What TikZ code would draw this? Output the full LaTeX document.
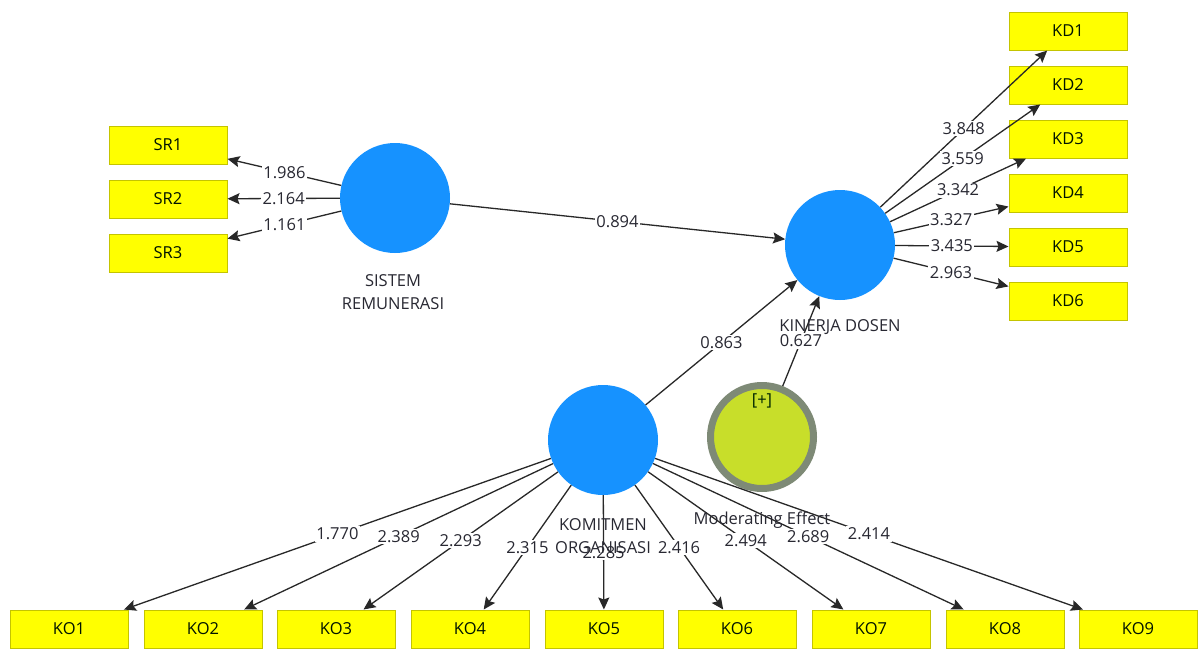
\documentclass[tikz,border=0pt]{standalone}
\usepackage{fontspec}
\setmainfont{Open Sans}
\usetikzlibrary{arrows.meta}
\definecolor{lvblue}{RGB}{22,146,255}
\definecolor{indyellow}{RGB}{255,255,0}
\definecolor{indborder}{RGB}{196,196,0}
\definecolor{modfill}{RGB}{200,222,42}
\definecolor{modring}{RGB}{126,138,118}
\definecolor{linecol}{RGB}{40,40,40}
\definecolor{txtcol}{RGB}{40,40,50}
\tikzset{
  lv/.style={circle, fill=lvblue, minimum size=110pt, inner sep=0pt},
  modlv/.style={circle, fill=modfill, draw=modring, line width=7pt, minimum size=103pt, inner sep=0pt},
  ind/.style={rectangle, fill=indyellow, draw=indborder, line width=1pt, minimum width=118pt, minimum height=38pt, inner sep=0pt, text=black!80!green!40!black, font=\fontsize{16.5}{18}\selectfont},
  arr/.style={draw=linecol, line width=1.3pt, -{Stealth[length=12pt,width=11pt,inset=2pt]}},
  val/.style={fill=white, inner sep=1.5pt, text=txtcol, font=\fontsize{16.5}{18}\selectfont},
  lvlabel/.style={align=center, text=txtcol, font=\fontsize{16.5}{23}\selectfont, inner sep=0pt},
}
\begin{document}
\begin{tikzpicture}[x=1pt,y=-1pt]
\useasboundingbox[fill=white] (0,0) rectangle (1202,648);
% latent variables
\node[lv] (SR) at (395,198) {};
\node[lv] (KD) at (840,245) {};
\node[lv] (KO) at (603,440) {};
\node[modlv] (ME) at (762,437) {};
% indicators
\node[ind] (SR1) at (168,145) {SR1};
\node[ind] (SR2) at (168,199) {SR2};
\node[ind] (SR3) at (168,253) {SR3};
\node[ind] (KD1) at (1068,31) {KD1};
\node[ind] (KD2) at (1068,85) {KD2};
\node[ind] (KD3) at (1068,139) {KD3};
\node[ind] (KD4) at (1068,193) {KD4};
\node[ind] (KD5) at (1068,247) {KD5};
\node[ind] (KD6) at (1068,301) {KD6};
\node[ind] (KO1) at (69,629) {KO1};
\node[ind] (KO2) at (203,629) {KO2};
\node[ind] (KO3) at (336,629) {KO3};
\node[ind] (KO4) at (470,629) {KO4};
\node[ind] (KO5) at (604,629) {KO5};
\node[ind] (KO6) at (737,629) {KO6};
\node[ind] (KO7) at (871,629) {KO7};
\node[ind] (KO8) at (1005,629) {KO8};
\node[ind] (KO9) at (1138,629) {KO9};
% SR outer loadings
\draw[arr] (SR) -- node[val]{1.986} (SR1);
\draw[arr] (SR) -- node[val]{2.164} (SR2);
\draw[arr] (SR) -- node[val]{1.161} (SR3);
% KD outer loadings
\draw[arr] (KD) -- node[val]{3.848} (KD1);
\draw[arr] (KD) -- node[val]{3.559} (KD2);
\draw[arr] (KD) -- node[val]{3.342} (KD3);
\draw[arr] (KD) -- node[val]{3.327} (KD4);
\draw[arr] (KD) -- node[val]{3.435} (KD5);
\draw[arr] (KD) -- node[val]{2.963} (KD6);
% KO outer loadings
\draw[arr] (KO) -- node[val]{1.770} (KO1);
\draw[arr] (KO) -- node[val]{2.389} (KO2);
\draw[arr] (KO) -- node[val]{2.293} (KO3);
\draw[arr] (KO) -- node[val]{2.315} (KO4);
\draw[arr] (KO) -- node[val]{2.285} (KO5);
\draw[arr] (KO) -- node[val]{2.416} (KO6);
\draw[arr] (KO) -- node[val]{2.494} (KO7);
\draw[arr] (KO) -- node[val]{2.689} (KO8);
\draw[arr] (KO) -- node[val]{2.414} (KO9);
% structural paths
\draw[arr] (SR) -- node[val]{0.894} (KD);
\draw[arr] (KO) -- node[val]{0.863} (KD);
\draw[arr] (ME) -- node[val]{0.627} (KD);
% labels
\node[lvlabel] (SRl) at (393,292) {SISTEM\\REMUNERASI};
\node[lvlabel] (KDl) at (840,327) {KINERJA DOSEN};
\node[lvlabel] (KOl) at (603,536) {KOMITMEN\\ORGANISASI};
\node[lvlabel] (MEl) at (762,520) {Moderating Effect};
\node[lvlabel, text=black!70!green!50!black] (MEp) at (762,401) {[+]};
\end{tikzpicture}
\end{document}
